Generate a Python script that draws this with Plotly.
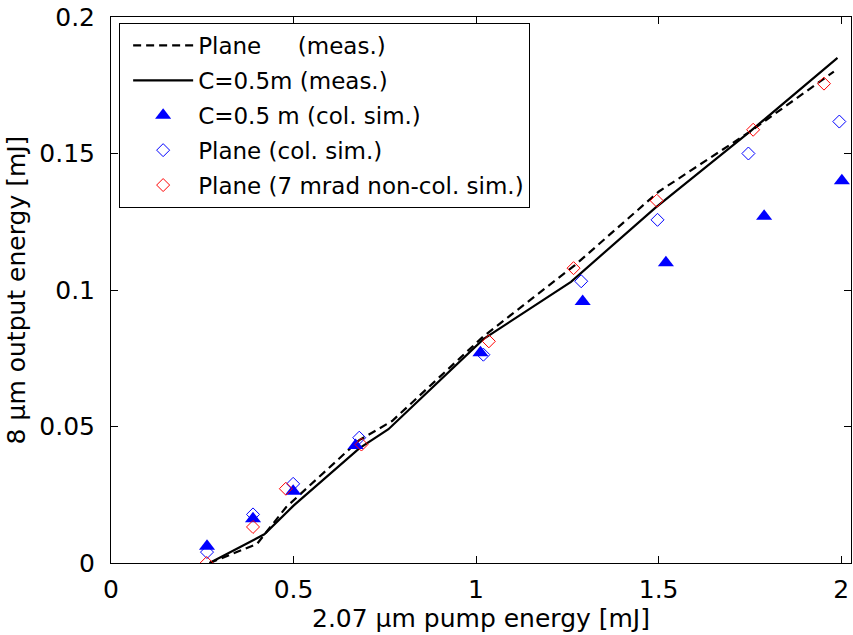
import plotly.graph_objects as go

# Measured curves
plane_meas_x = [0.27, 0.40, 0.48, 0.68, 0.77, 1.02, 1.27, 1.50, 1.75, 1.98]
plane_meas_y = [0.000, 0.007, 0.0205, 0.045, 0.052, 0.083, 0.109, 0.136, 0.158, 0.180]

c05_meas_x = [0.27, 0.42, 0.50, 0.68, 0.76, 1.02, 1.26, 1.49, 1.75, 1.99]
c05_meas_y = [0.000, 0.0105, 0.021, 0.042, 0.049, 0.082, 0.103, 0.130, 0.158, 0.185]

# Simulations
c05_sim_x = [0.263, 0.389, 0.499, 0.670, 1.012, 1.292, 1.520, 1.789, 2.002]
c05_sim_y = [0.0061, 0.0162, 0.0263, 0.0430, 0.0770, 0.0958, 0.1100, 0.1270, 0.1400]

plane_sim_x = [0.263, 0.389, 0.499, 0.680, 1.020, 1.288, 1.497, 1.746, 1.995]
plane_sim_y = [0.0040, 0.0178, 0.0290, 0.0459, 0.0763, 0.1032, 0.1257, 0.1500, 0.1617]

plane_nc_x = [0.262, 0.389, 0.479, 0.686, 1.035, 1.267, 1.495, 1.759, 1.953]
plane_nc_y = [0.0000, 0.0132, 0.0272, 0.0434, 0.0812, 0.1080, 0.1327, 0.1587, 0.1756]

x_ticks = [0, 0.5, 1, 1.5, 2]
x_ticklabels = ["0", "0.5", "1", "1.5", "2"]
y_ticks = [0, 0.05, 0.1, 0.15, 0.2]
y_ticklabels = ["0", "0.05", "0.1", "0.15", "0.2"]

FONT = "DejaVu Sans"
AX_SIZE = 25
LEG_SIZE = 23

fig = go.Figure()
fig.add_trace(go.Scatter(x=plane_meas_x, y=plane_meas_y, mode="lines",
                         name="Plane\u00a0\u00a0\u00a0\u00a0\u00a0(meas.)",
                         line=dict(color="black", width=2.2, dash="8px,5px"),
                         legendgroup="a"))
fig.add_trace(go.Scatter(x=c05_meas_x, y=c05_meas_y, mode="lines",
                         name="C=0.5m (meas.)",
                         line=dict(color="black", width=2.2),
                         legendgroup="b"))
fig.add_trace(go.Scatter(x=c05_sim_x, y=c05_sim_y, mode="markers",
                         name="C=0.5 m (col. sim.)",
                         marker=dict(symbol="triangle-up", size=14, color="#0000ff",
                                     line=dict(width=0)),
                         legendgroup="c"))
fig.add_trace(go.Scatter(x=plane_sim_x, y=plane_sim_y, mode="markers",
                         name="Plane (col. sim.)",
                         marker=dict(symbol="diamond-open", size=10, color="#0000ff",
                                     line=dict(width=1, color="#0000ff")),
                         legendgroup="d"))
fig.add_trace(go.Scatter(x=plane_nc_x, y=plane_nc_y, mode="markers",
                         name="Plane (7 mrad non-col. sim.)",
                         marker=dict(symbol="diamond-open", size=10, color="#ff0000",
                                     line=dict(width=1, color="#ff0000")),
                         legendgroup="e"))

axis_common = dict(showline=True, linecolor="black", linewidth=1, mirror="allticks",
                   ticks="inside", ticklen=7, tickcolor="black", tickwidth=1,
                   showgrid=False, zeroline=False,
                   tickfont=dict(family=FONT, size=AX_SIZE, color="black"))

fig.update_xaxes(range=[0, 2.027], tickvals=x_ticks, ticktext=x_ticklabels,
                 title=dict(text="2.07 μm pump energy [mJ]",
                            font=dict(family=FONT, size=AX_SIZE, color="black"),
                            standoff=0),
                 ticklabelstandoff=4, **axis_common)
fig.update_yaxes(range=[0, 0.2], tickvals=y_ticks, ticktext=y_ticklabels,
                 title=dict(text="8 μm output energy [mJ]",
                            font=dict(family=FONT, size=AX_SIZE, color="black"),
                            standoff=6),
                 ticklabelstandoff=10, **axis_common)

fig.update_layout(
    width=853, height=635,
    margin=dict(l=111, r=2, t=17, b=72),
    paper_bgcolor="white", plot_bgcolor="white",
    font=dict(family=FONT, size=AX_SIZE, color="black"),
    showlegend=True,
    legend=dict(x=0.011, y=0.989, xanchor="left", yanchor="top",
                bordercolor="black", borderwidth=1, bgcolor="white",
                font=dict(family=FONT, size=LEG_SIZE, color="black"),
                itemwidth=60, indentation=8, tracegroupgap=2, traceorder="grouped"),
)

fig.write_html("out.html")
